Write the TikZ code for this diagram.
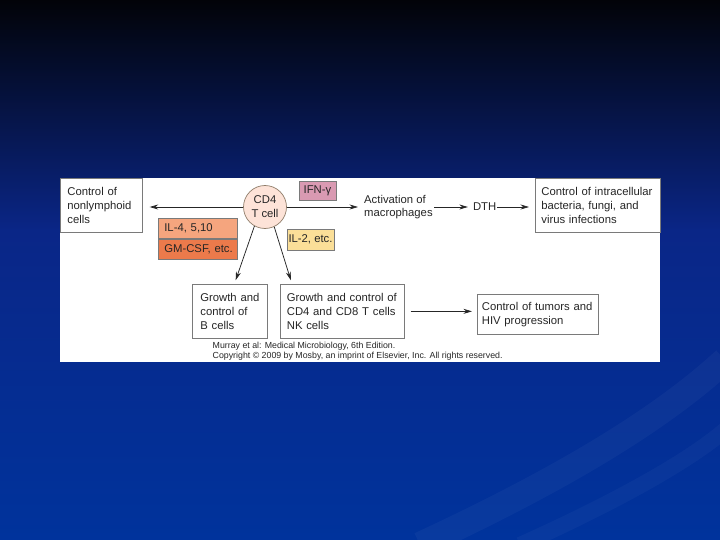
\documentclass[tikz,border=0pt]{standalone}
\usepackage{fontspec}
\setmainfont{Liberation Sans}
\usetikzlibrary{arrows.meta,positioning}
\definecolor{bgtop}{HTML}{020308}
\definecolor{bgmid}{HTML}{0A2687}
\definecolor{bgbot}{HTML}{00339C}
\definecolor{ifnpink}{HTML}{D99AB2}
\definecolor{ilfour}{HTML}{F5A57E}
\definecolor{gmcsf}{HTML}{EC7A4B}
\definecolor{iltwo}{HTML}{FBDF98}
\definecolor{cellfill}{HTML}{FDE3D8}
\definecolor{framegray}{HTML}{7A7A7A}
\definecolor{inkgray}{HTML}{262626}

\begin{document}
\begin{tikzpicture}[
    x=1pt, y=-1pt,
    node distance=0pt,
    box/.style={draw=framegray, fill=white, line width=0.7pt, align=left, inner xsep=7pt,
      inner ysep=0pt, anchor=north west, font=\fontsize{11.3}{14}\selectfont, text=inkgray},
    tag/.style={draw=framegray, line width=0.7pt, inner sep=1pt,
      font=\fontsize{11.3}{14}\selectfont, text=inkgray},
    flow/.style={-{Stealth[length=8.5pt,width=5pt]}, draw=inkgray, line width=0.75pt}
  ]
  \useasboundingbox (0,0) rectangle (720,540);
  % slide background
  \shade[top color=bgtop, bottom color=bgmid] (0,0) rectangle (720,231);
  \shade[top color=bgmid, bottom color=bgbot] (0,230) rectangle (720,540);
  \draw[white, opacity=0.035, line width=26pt] (420,545) .. controls (560,480) and (660,420) .. (725,360);
  \draw[white, opacity=0.03, line width=16pt] (520,545) .. controls (620,500) and (690,460) .. (725,430);
  \fill[white] (60,178) rectangle (660,362);

  % top row
  \node[box, text width=68pt, minimum height=54pt] (nonlymph) at (60,178) {Control of\\nonlymphoid\\cells};
  \node[box, text width=113pt, inner xsep=6pt, minimum height=54pt] (intracell) at (535,178)
    {Control of intracellular\\bacteria, fungi, and\\virus infections};
  \node[circle, draw=framegray!70!brown, fill=cellfill, line width=0.7pt, minimum size=43pt,
    inner sep=0pt, align=center, font=\fontsize{11.3}{14}\selectfont, text=inkgray] (cd4) at (265,207) {CD4\\T cell};
  \node[tag, fill=ifnpink, minimum width=37pt, minimum height=19pt] (ifn) at (317.5,190.5) {IFN-γ};
  \node[anchor=west, inner sep=0pt, align=left, font=\fontsize{11.3}{13.5}\selectfont, text=inkgray]
    (macro) at (364,207) {Activation of\\macrophages};
  \node[right=40pt of macro, inner sep=0pt, font=\fontsize{11.3}{14}\selectfont, text=inkgray] (dth) {DTH};

  % cytokines
  \node[tag, fill=ilfour, anchor=north west, text width=72pt, inner xsep=3.5pt, align=left,
    minimum height=20pt] (il4) at (158,218) {\hspace*{2.5pt}IL-4, 5,10};
  \node[tag, fill=gmcsf, below=0pt of il4, text width=72pt, inner xsep=3.5pt, align=left,
    minimum height=20pt] (gmcsf) {\hspace*{2.5pt}GM-CSF, etc.};
  \node[tag, fill=iltwo, minimum width=47pt, minimum height=21pt, inner xsep=1pt] (il2) at (310.5,239.5) {IL-2, etc.};

  % bottom row
  \node[box, text width=65pt, inner xsep=5pt, minimum height=54pt] (bcell) at (192,284)
    {\hspace*{3pt}Growth and\\\hspace*{3pt}control of\\\hspace*{3pt}B cells};
  \node[box, text width=111pt, inner xsep=6.5pt, minimum height=54pt] (tcell) at (280,284)
    {Growth and control of\\CD4 and CD8 T cells\\NK cells};
  \node[box, text width=112pt, inner xsep=4.5pt, minimum height=40pt] (tumors) at (477,294)
    {Control of tumors and\\HIV progression};

  \node[anchor=north west, inner sep=0pt, align=left, font=\fontsize{8.8}{10}\selectfont, text=inkgray]
    (credit) at (212.5,341.5) {Murray et al: Medical Microbiology, 6th Edition.\\
    Copyright © 2009 by Mosby, an imprint of Elsevier, Inc. All rights reserved.};

  % connectors
  \draw[flow, shorten >=7pt] (cd4.west) -- (nonlymph.east |- cd4.west);
  \draw[flow, shorten >=6pt] (cd4.east) -- (macro.west);
  \draw[flow, shorten <=1.5pt, shorten >=5pt] (macro.east) -- (dth.west);
  \draw[flow, shorten <=1pt, shorten >=6pt] (dth.east) -- (intracell.west |- dth.east);
  \draw[flow, shorten >=4pt] (cd4.241) -- ([xshift=4.5pt]bcell.north);
  \draw[flow, shorten >=4pt] (cd4.295) -- ([xshift=12pt]tcell.north west);
  \draw[flow, shorten <=6pt, shorten >=5pt] (tcell.east) -- (tcell.east -| tumors.west);
\end{tikzpicture}
\end{document}
